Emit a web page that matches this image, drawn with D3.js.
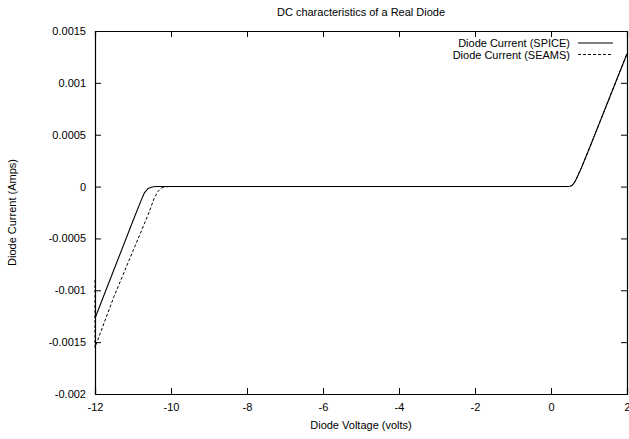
<!DOCTYPE html>
<html>
<head>
<meta charset="utf-8">
<script src="https://cdn.jsdelivr.net/npm/d3@7"></script>
<style>
body { margin: 0; background: #fff; }
svg text { font-family: "Liberation Sans", Arial, sans-serif; font-size: 11px; fill: #000; }
</style>
</head>
<body>
<div id="the_chart"></div>
<script>
var xTicks = [-12, -10, -8, -6, -4, -2, 0, 2];
var yTicks = [-0.002, -0.0015, -0.001, -0.0005, 0, 0.0005, 0.001, 0.0015];

// SPICE curve (volts, amps)
var spiceV = [-12, -11.5, -11, -10.8, -10.7, -10.6, -10.5, -10.4, -10.2, -8, -6, -4, -2, 0, 0.45, 0.5, 0.55, 0.6, 0.65, 0.7, 0.8, 0.9, 1.0, 1.5, 2];
var spiceI = [-0.00127, -0.0008, -0.00033, -0.000145, -0.00006, -0.000018, -0.000004, 0, 0, 0, 0, 0, 0, 0, 0, 0.000003, 0.00001, 0.00003, 0.00006, 0.0001, 0.00018, 0.00027, 0.00036, 0.00082, 0.00128];

// SEAMS curve (volts, amps)
var seamsV = [-12, -12, -11.5, -11, -10.6, -10.45, -10.35, -10.25, -10.15, -10.0, -8, -6, -4, -2, 0, 0.45, 0.5, 0.55, 0.6, 0.65, 0.7, 0.8, 0.9, 1.0, 1.5, 2];
var seamsI = [-0.0009, -0.00155, -0.00106, -0.00062, -0.00027, -0.00012, -0.00005, -0.000013, -0.000002, 0, 0, 0, 0, 0, 0, 0, 0.000003, 0.00001, 0.00003, 0.00006, 0.0001, 0.00018, 0.00027, 0.00036, 0.00082, 0.00128];

function gen_vis() {
    var w = 629, h = 439;
    var left = 95, right = 627, top = 31, bottom = 394;

    var svg = d3.select("#the_chart").append("svg")
        .attr("width", w)
        .attr("height", h);

    var xscale = d3.scaleLinear().domain([-12, 2]).range([left, right]);
    var yscale = d3.scaleLinear().domain([-0.002, 0.0015]).range([bottom, top]);

    var fmt = function (d) { return d === 0 ? "0" : String(+d.toPrecision(2)); };

    // axes with inward ticks on all four sides
    svg.append("g").attr("transform", "translate(0," + bottom + ")")
        .call(d3.axisBottom(xscale).tickValues(xTicks).tickSize(-6).tickPadding(9).tickFormat(fmt));
    svg.append("g").attr("transform", "translate(0," + top + ")")
        .call(d3.axisTop(xscale).tickValues(xTicks).tickSize(-6).tickFormat(""));
    svg.append("g").attr("transform", "translate(" + left + ",0)")
        .call(d3.axisLeft(yscale).tickValues(yTicks).tickSize(-6).tickPadding(9).tickFormat(fmt));
    svg.append("g").attr("transform", "translate(" + right + ",0)")
        .call(d3.axisRight(yscale).tickValues(yTicks).tickSize(-6).tickFormat(""));

    svg.selectAll(".domain").attr("stroke", "#000").attr("stroke-width", 1.2);
    svg.selectAll(".tick line").attr("stroke", "#000");
    svg.selectAll(".tick text").style("font-size", "11px");

    var line = d3.line()
        .x(function (d) { return xscale(d[0]); })
        .y(function (d) { return yscale(d[1]); });

    var spice = d3.zip(spiceV, spiceI);
    var seams = d3.zip(seamsV, seamsI);

    svg.append("path").datum(seams)
        .attr("d", line).attr("fill", "none")
        .attr("stroke", "#000").attr("stroke-width", 1)
        .attr("stroke-dasharray", "3,2");
    svg.append("path").datum(spice)
        .attr("d", line).attr("fill", "none")
        .attr("stroke", "#000").attr("stroke-width", 1.1);

    // legend
    var legend = [["Diode Current (SPICE)", null], ["Diode Current (SEAMS)", "3,2"]];
    legend.forEach(function (d, i) {
        var y = 43 + i * 11.5;
        svg.append("text").attr("x", 570).attr("y", y + 4)
            .attr("text-anchor", "end").text(d[0]);
        svg.append("line").attr("x1", 578).attr("x2", 613)
            .attr("y1", y).attr("y2", y)
            .attr("stroke", "#000").attr("stroke-width", 1)
            .attr("stroke-dasharray", d[1]);
    });

    svg.append("text").attr("x", (left + right) / 2).attr("y", 16)
        .attr("text-anchor", "middle").text("DC characteristics of a Real Diode");
    svg.append("text").attr("x", (left + right) / 2).attr("y", 429)
        .attr("text-anchor", "middle").text("Diode Voltage (volts)");
    svg.append("text")
        .attr("transform", "translate(16," + ((top + bottom) / 2) + ") rotate(-90)")
        .attr("text-anchor", "middle").text("Diode Current (Amps)");
}

gen_vis();
</script>
</body>
</html>
